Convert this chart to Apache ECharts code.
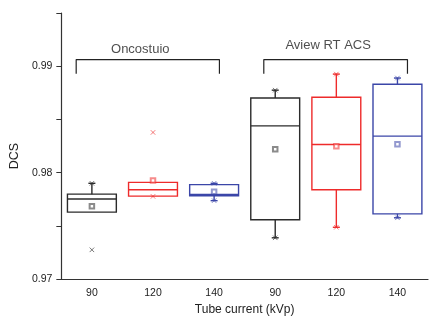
<!DOCTYPE html>
<html>
<head>
<meta charset="utf-8">
<script src="https://cdn.jsdelivr.net/npm/echarts@6/dist/echarts.min.js"></script>
<style>
  html, body { margin: 0; padding: 0; background: #fff; }
  #chart { width: 443px; height: 321px; }
</style>
</head>
<body>
<div id="chart"></div>
<script>
// tube current per box (two groups of three)
const categories = ['90', '120', '140', '90', '120', '140'];
// [min, Q1, median, Q3, max]
const boxStats = [
  [0.97629, 0.97629, 0.97752, 0.97798, 0.9790],
  [0.97780, 0.97780, 0.97839, 0.97909, 0.97909],
  [0.97737, 0.97783, 0.97795, 0.97888, 0.9790],
  [0.97388, 0.97558, 0.98440, 0.98701, 0.98775],
  [0.97487, 0.97839, 0.98264, 0.98708, 0.98926],
  [0.97576, 0.97613, 0.98343, 0.98831, 0.98889],
];
const means = [0.97684, 0.97927, 0.97820, 0.98221, 0.98248, 0.98267];
// x marks (1%/99% / outliers)
const crossMarks = [
  [0.9790, 0.97275],
  [0.97777, 0.98378],
  [0.9790, 0.97737],
  [0.98775, 0.97388],
  [0.98926, 0.97487],
  [0.98889, 0.97576],
];
// group brackets, in category-index units on a hidden axis
const groupNames = ['Oncostuio', 'Aview RT ACS'];
const bracketSpan = [[-0.257, 2.087], [2.813, 5.164]];
const bracketTop = 0.99062;
const bracketFoot = 0.98930;
const groupLabelX = [0.792, 3.866];
const groupLabelY = [0.99161, 0.99191];

const COLORS = ['#2b2b2b', '#ee2b2b', '#3b46a8'];
const FONT = 'Liberation Sans, Arial, sans-serif';
const AXIS_LINE = { lineStyle: { color: '#333', width: 1.2 } };

const chart = echarts.init(document.getElementById('chart'));

function renderBox(params, api) {
  const i = api.value(0);
  const c = COLORS[i % 3];
  const vals = [1, 2, 3, 4, 5].map((k) => api.value(k));
  const x = api.coord([i, vals[0]])[0];
  const y = vals.map((v) => api.coord([i, v])[1]);
  const bw = api.size([1, 0])[0] * 0.8;
  const cap = 3.5;
  const style = { stroke: c, fill: null, lineWidth: 1.4 };
  const kids = [
    { type: 'rect', shape: { x: x - bw / 2, y: y[3], width: bw, height: y[1] - y[3] }, style: { ...style, fill: 'transparent' } },
    { type: 'line', shape: { x1: x - bw / 2, y1: y[2], x2: x + bw / 2, y2: y[2] }, style },
  ];
  if (y[0] - y[1] > 0.5) {
    kids.push({ type: 'line', shape: { x1: x, y1: y[1], x2: x, y2: y[0] }, style });
    kids.push({ type: 'line', shape: { x1: x - cap, y1: y[0], x2: x + cap, y2: y[0] }, style });
  }
  if (y[3] - y[4] > 0.5) {
    kids.push({ type: 'line', shape: { x1: x, y1: y[3], x2: x, y2: y[4] }, style });
    kids.push({ type: 'line', shape: { x1: x - cap, y1: y[4], x2: x + cap, y2: y[4] }, style });
  }
  return { type: 'group', children: kids };
}

const crossData = [];
crossMarks.forEach((arr, i) => arr.forEach((v) => crossData.push({
  value: [i, v],
  itemStyle: { color: 'transparent', borderColor: COLORS[i % 3], borderWidth: 0.9, opacity: 0.7 },
})));

chart.setOption({
  animation: false,
  textStyle: { fontFamily: FONT },
  grid: { left: 61, right: 15, top: 13, bottom: 38 },
  xAxis: [
    {
      type: 'category', data: categories, boundaryGap: true,
      name: 'Tube current (kVp)', nameLocation: 'middle', nameGap: 22,
      nameTextStyle: { fontSize: 12, color: '#222', fontFamily: FONT },
      axisLine: AXIS_LINE,
      axisTick: { alignWithLabel: true, length: 4, lineStyle: { color: '#333' } },
      axisLabel: { color: '#222', fontSize: 10.5, margin: 9, fontFamily: FONT },
    },
    { type: 'value', min: -0.5, max: 5.5, show: false },
  ],
  yAxis: {
    type: 'value', min: 0.97, max: 0.995, interval: 0.005,
    name: 'DCS', nameLocation: 'middle', nameGap: 38, nameRotate: 90,
    nameTextStyle: { fontSize: 12.5, color: '#222', fontFamily: FONT, padding: [0, 20, 0, 0] },
    axisLine: { show: true, onZero: false, ...AXIS_LINE },
    axisTick: { show: true, length: 5, lineStyle: { color: '#333' } },
    splitLine: { show: false },
    axisLabel: {
      color: '#222', fontSize: 10.5, margin: 9, fontFamily: FONT,
      formatter: (v) => (Math.round(v * 1000) % 10 === 0 ? v.toFixed(2) : ''),
    },
  },
  series: [
    {
      type: 'custom', xAxisIndex: 0, renderItem: renderBox,
      encode: { x: 0, y: [1, 2, 3, 4, 5] },
      data: boxStats.map((s, i) => [i, ...s]),
    },
    {
      type: 'scatter', xAxisIndex: 0, symbol: 'emptyRect', symbolSize: 4.5,
      data: means.map((m, i) => ({ value: [i, m], itemStyle: { color: COLORS[i % 3], opacity: 0.55, borderWidth: 0.7 } })),
    },
    {
      type: 'scatter', xAxisIndex: 0, symbol: 'path://M0,0L10,10M0,10L10,0', symbolSize: 4.5,
      data: crossData,
    },
    ...bracketSpan.map((s) => ({
      type: 'line', xAxisIndex: 1, symbol: 'none',
      lineStyle: { color: '#222', width: 1.2 },
      data: [[s[0], bracketFoot], [s[0], bracketTop], [s[1], bracketTop], [s[1], bracketFoot]],
    })),
    {
      type: 'scatter', xAxisIndex: 1, symbolSize: 0,
      label: { show: true, position: 'inside', formatter: (p) => p.name, fontSize: 13, color: '#222', fontFamily: FONT },
      data: groupNames.map((n, i) => ({ name: n, value: [groupLabelX[i], groupLabelY[i]] })),
    },
  ],
});
</script>
</body>
</html>
